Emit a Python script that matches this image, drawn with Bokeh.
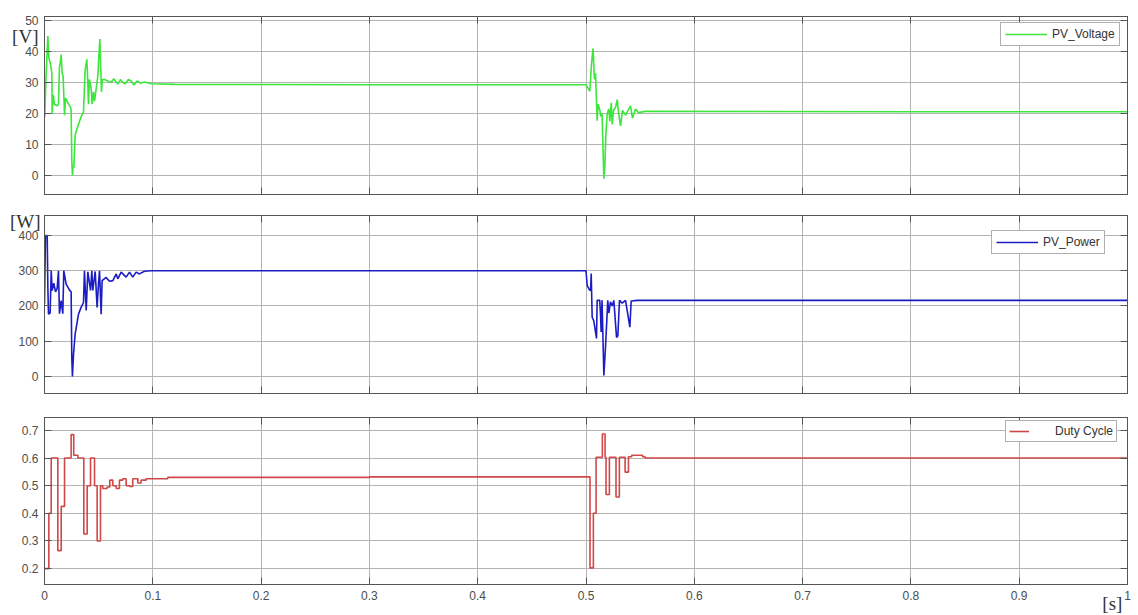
from bokeh.plotting import figure
from bokeh.layouts import column
from bokeh.models import (Range1d, LinearAxis, SingleIntervalTicker, FixedTicker, CustomJSTickFormatter,
                          CustomLabelingPolicy, Legend, LegendItem)
from bokeh.embed import file_html
from bokeh.resources import INLINE

# ---------------- data ----------------
# PV voltage [V]
t_volt = [0.0, 0.0003, 0.0012, 0.0031, 0.004, 0.0055, 0.0068, 0.0071, 0.008, 0.0092, 0.0117, 0.0129,
          0.0138, 0.0148, 0.0154, 0.0163, 0.0172, 0.0185, 0.0194, 0.0215, 0.024, 0.0246, 0.0252, 0.0258,
          0.0265, 0.0271, 0.0283, 0.0308, 0.0338, 0.036, 0.0375, 0.0391, 0.04, 0.0406, 0.0415, 0.0431,
          0.044, 0.0452, 0.0462, 0.0477, 0.0492, 0.0511, 0.052, 0.0526, 0.0535, 0.0554, 0.0585, 0.0615,
          0.064, 0.0662, 0.0677, 0.0702, 0.0723, 0.0745, 0.0775, 0.08, 0.0825, 0.0855, 0.0886, 0.0923,
          0.0985, 0.12, 0.3, 0.5, 0.5014, 0.5035, 0.5051, 0.5065, 0.5078, 0.5088, 0.5103, 0.5111, 0.5125,
          0.5139, 0.5148, 0.5165, 0.5174, 0.5183, 0.5196, 0.5211, 0.522, 0.5233, 0.5242, 0.5254, 0.5273,
          0.5288, 0.53, 0.5319, 0.5337, 0.5365, 0.5411, 0.5429, 0.5457, 0.5485, 0.5549, 0.8, 1.0]
v_volt = [25, 19, 30, 45, 38, 36, 33, 20, 26, 23, 22.5, 23,
          35, 37, 39, 33, 32, 19.5, 25, 23.5, 22, 21, 5, 0,
          3, 2.5, 13, 16, 19, 20.5, 34, 37.5, 30, 23, 31, 28,
          23, 27, 24, 28, 32, 44, 34, 27, 31, 31, 30.5, 30,
          31.2, 30.2, 29.5, 31, 30, 29.6, 31, 30.5, 29.2, 30.5, 29.8, 30.2,
          29.6, 29.4, 29.3, 29.3, 28.5, 27.2, 36, 41, 31, 33, 17.7, 23, 21.5,
          19, 20, -1, 3, 13, 20, 21.5, 17.5, 23.5, 16.5, 21, 22,
          24.5, 20.5, 16, 21, 19.5, 22.5, 18.5, 21.5, 20.3, 20.7, 20.6, 20.6]

# PV power [W]
t_pow = [0.0, 0.0009, 0.0025, 0.0031, 0.0037, 0.0052, 0.0062, 0.0071, 0.0086, 0.0102, 0.0117, 0.0129,
         0.0138, 0.0154, 0.0169, 0.0178, 0.02, 0.0231, 0.0246, 0.0252, 0.0258, 0.0268, 0.0283, 0.0314,
         0.0338, 0.036, 0.0369, 0.0385, 0.04, 0.0425, 0.0437, 0.0446, 0.0468, 0.0486, 0.0498, 0.0508,
         0.0523, 0.0532, 0.0569, 0.06, 0.0631, 0.0662, 0.0677, 0.0708, 0.0754, 0.0785, 0.0815, 0.0846,
         0.0877, 0.0923, 0.0985, 0.3, 0.5, 0.5011, 0.5032, 0.5042, 0.5048, 0.5057, 0.5072, 0.5088,
         0.5097, 0.5103, 0.5127, 0.5134, 0.514, 0.5148, 0.5165, 0.518, 0.5201, 0.5211, 0.5226, 0.5242,
         0.5257, 0.5282, 0.5294, 0.5309, 0.5334, 0.5365, 0.5405, 0.5417, 0.5473, 0.8, 1.0]
p_pow = [206, 400, 400, 250, 177, 180, 300, 244, 265, 240, 250, 300,
         178, 215, 178, 300, 262, 245, 240, 54, 0, 64, 120, 177,
         196, 210, 300, 187, 297, 244, 300, 244, 298, 196, 262, 300,
         177, 272, 281, 270, 272, 291, 277, 296, 282, 296, 282, 296,
         291, 298.5, 300, 300, 300, 258, 246, 244, 292, 168, 158, 126,
         108, 216, 216, 175, 126, 216, 3, 83, 216, 180, 212, 200,
         216, 111, 115, 216, 208, 216, 140, 214, 216, 216, 216]

# Duty cycle (step, value holds from t_i to t_i+1)
t_duty = [0.0, 0.004, 0.0062, 0.0123, 0.0154, 0.0185, 0.0246, 0.027, 0.0308, 0.0363, 0.0394, 0.0425,
          0.0462, 0.0486, 0.0517, 0.0538, 0.0578, 0.0603, 0.0631, 0.0662, 0.0692, 0.0723, 0.0754, 0.0785,
          0.0815, 0.0862, 0.0892, 0.0938, 0.1138, 0.3, 0.5037, 0.5068, 0.5093, 0.5151, 0.5176, 0.5185,
          0.5216, 0.5277, 0.5308, 0.5361, 0.5392, 0.5422, 0.5523, 0.5545, 1.0]
d_duty = [0.2, 0.4, 0.6, 0.265, 0.425, 0.6, 0.685, 0.61, 0.6, 0.325, 0.5, 0.6,
          0.5, 0.3, 0.5, 0.49, 0.495, 0.52, 0.5, 0.49, 0.52, 0.525, 0.5, 0.497,
          0.525, 0.51, 0.52, 0.525, 0.53, 0.532, 0.2025, 0.40, 0.603, 0.687, 0.603, 0.468,
          0.603, 0.459, 0.603, 0.549, 0.605, 0.61, 0.605, 0.6, 0.6]

series_names = ["PV_Voltage", "PV_Power", "Duty Cycle"]
unit_labels = ["[V]", "[W]", "[s]"]

FONT = "Liberation Sans"
SERIF = "Liberation Serif"
GRID = "#b4b4b4"
EDGE = "#555555"

fmt = CustomJSTickFormatter(code="return String(Math.round(tick*10)/10);")
no_labels = CustomLabelingPolicy(code="""
try {
  for (const i of Array.from(indices.ones())) { indices.unset(i) }
} catch (e) {}
return indices;
""")


def style_axis(ax, labels):
    ax.axis_line_color = EDGE
    ax.major_tick_line_color = EDGE
    ax.major_tick_in = 7
    ax.major_tick_out = 0
    ax.minor_tick_line_color = None
    ax.major_label_text_font = FONT
    ax.major_label_text_font_size = "12px"
    ax.major_label_text_color = "#4d4d4d"
    ax.formatter = fmt
    if labels:
        ax.major_label_standoff = 6
    else:
        ax.major_label_policy = no_labels
        ax.major_label_text_font_size = "0px"
        ax.major_label_standoff = 0


def make_panel(y0, y1, yint, fh, top, bottom, xlabels):
    p = figure(output_backend="svg", toolbar_location=None,
               frame_width=1083, frame_height=fh,
               min_border_left=44, min_border_right=5,
               min_border_top=top, min_border_bottom=bottom,
               x_range=Range1d(0, 1), y_range=Range1d(y0, y1))
    p.outline_line_color = EDGE
    p.background_fill_color = "white"
    p.border_fill_color = "white"
    xt = SingleIntervalTicker(interval=0.1, num_minor_ticks=0)
    yt = SingleIntervalTicker(interval=yint, num_minor_ticks=0)
    p.xaxis.ticker = xt
    p.yaxis.ticker = yt
    p.xgrid.ticker = xt
    p.ygrid.ticker = yt
    for ax in p.xaxis:
        style_axis(ax, xlabels)
    for ax in p.yaxis:
        style_axis(ax, True)
    top_ax = LinearAxis(ticker=xt)
    style_axis(top_ax, False)
    right_ax = LinearAxis(ticker=yt)
    style_axis(right_ax, False)
    p.add_layout(top_ax, "above")
    p.add_layout(right_ax, "right")
    p.xgrid.grid_line_color = GRID
    p.ygrid.grid_line_color = GRID
    return p


def add_legend(p, r, text, loc, gw, standoff, pad):
    leg = Legend(items=[LegendItem(label=text, renderers=[r])], location=loc,
                 label_text_font=FONT, label_text_font_size="12px", label_text_color="#333333",
                 glyph_width=gw, glyph_height=12, label_height=12, label_standoff=standoff,
                 padding=pad, spacing=0, margin=0, border_line_color="#606060",
                 border_line_width=1, background_fill_color="white", background_fill_alpha=1)
    p.add_layout(leg, "center")


def add_unit(p, text, at, side, standoff):
    # unit label drawn as the single tick label of an extra, line-less axis
    ax = LinearAxis(ticker=FixedTicker(ticks=[at]),
                    formatter=CustomJSTickFormatter(args=dict(lab=text), code="return lab;"))
    ax.axis_line_color = None
    ax.major_tick_line_color = None
    ax.minor_tick_line_color = None
    ax.major_tick_in = 0
    ax.major_tick_out = 0
    ax.major_label_standoff = standoff
    ax.major_label_text_font = SERIF
    ax.major_label_text_font_size = "19px"
    ax.major_label_text_color = "#333333"
    p.add_layout(ax, side)


# panel 1 : voltage
p1 = make_panel(-6.1, 51.3, 10, 178, 16, 10, False)
r1 = p1.line(t_volt, v_volt, line_color="#3ce63c", line_width=1.6)
add_legend(p1, r1, series_names[0], (956, 148), 42, 5, 4)
add_unit(p1, unit_labels[0], 45.0, "left", -16)

# panel 2 : power
p2 = make_panel(-48.2, 456.7, 100, 178, 11, 11, False)
r2 = p2.line(t_pow, p_pow, line_color="#1c1cc4", line_width=1.6)
add_legend(p2, r2, series_names[1], (947, 139), 42, 5, 4)
add_unit(p2, unit_labels[1], 440.0, "left", -25)

# panel 3 : duty cycle
p3 = make_panel(0.1424, 0.7468, 0.1, 167, 13, 30, True)
r3 = p3.step(t_duty, d_duty, mode="after", line_color="#d04848", line_width=1.6)
add_legend(p3, r3, series_names[2], (961, 142), 20, 26, 3)
add_unit(p3, unit_labels[2], 0.986, "below", -10)

layout = column(p1, p2, p3, spacing=0)
open("out.html", "w").write(file_html(layout, INLINE))
